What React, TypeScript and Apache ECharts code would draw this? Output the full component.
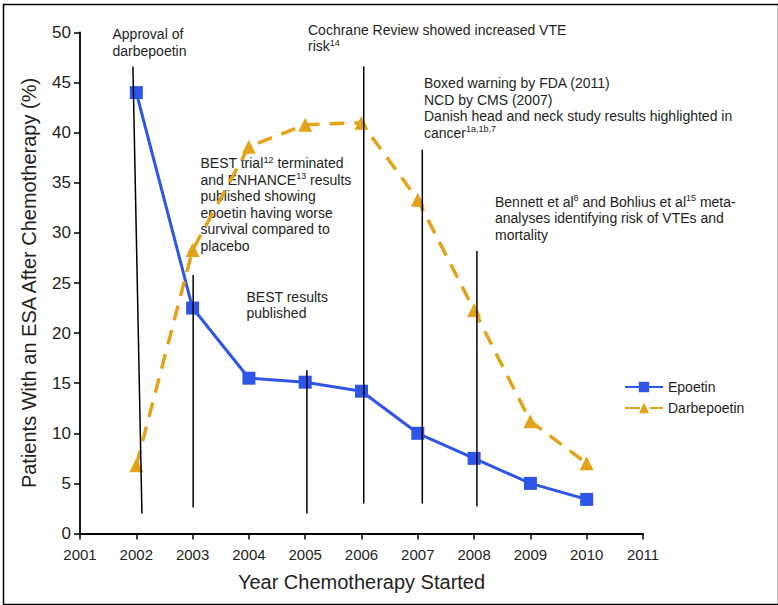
import React, { useEffect, useRef } from "react";
import * as echarts from "echarts";

// Data
const years = [2002, 2003, 2004, 2005, 2006, 2007, 2008, 2009, 2010];
const epoetin = [44.0, 22.5, 15.5, 15.1, 14.2, 10.0, 7.5, 5.0, 3.4];
const darbepoetin = [6.8, 28.3, 38.6, 40.8, 41.0, 33.3, 22.3, 11.2, 7.0];

// Event marker lines (data coordinates)
const eventTopX = [2001.94, 2003.01, 2005.03, 2006.04, 2007.08, 2008.05];
const eventTopY = [46.6, 25.8, 16.3, 46.6, 38.3, 28.2];
const eventBottomX = [2002.1, 2003.01, 2005.03, 2006.04, 2007.08, 2008.05];
const eventBottomY = [2.0, 2.6, 2.0, 3.0, 3.0, 2.7];

// Axis ranges
const xMin = 2001;
const xMax = 2011;
const yMin = 0;
const yMax = 50;
const yInterval = 5;

const seriesNames = ["Epoetin", "Darbepoetin"];

const annotations = [
  { text: "Approval of\ndarbepoetin", x: 112.5, y: 26 },
  { text: "Cochrane Review showed increased VTE\nrisk{sup|14}", x: 308, y: 21.5 },
  {
    text:
      "Boxed warning by FDA (2011)\nNCD by CMS (2007)\nDanish head and neck study results highlighted in\ncancer{sup|1a,1b,7}",
    x: 424,
    y: 75,
  },
  {
    text:
      "BEST trial{sup|12} terminated\nand ENHANCE{sup|13} results\npublished showing\nepoetin having worse\nsurvival compared to\nplacebo",
    x: 200.5,
    y: 155,
  },
  { text: "BEST results\npublished", x: 246.5, y: 288.5 },
  {
    text:
      "Bennett et al{sup|8} and Bohlius et al{sup|15} meta-\nanalyses identifying risk of VTEs and\nmortality",
    x: 495,
    y: 193.5,
  },
];

const FONT = "'Liberation Sans', Arial, Helvetica, sans-serif";
const TEXT = "#231f20";
const BLUE = "#2d55e8";
const GOLD = "#e3a21a";

export default function App() {
  const ref = useRef<HTMLDivElement>(null);
  useEffect(() => {
    if (!ref.current) return;
    const chart = echarts.init(ref.current, undefined, { renderer: "svg" });

    const eventSeries = eventTopX.map((_, i) => ({
      type: "line" as const,
      name: "event" + i,
      data: [
        [eventTopX[i], eventTopY[i]],
        [eventBottomX[i], eventBottomY[i]],
      ],
      symbol: "none",
      silent: true,
      z: 5,
      lineStyle: { color: "#000", width: 1.5 },
    }));

    const annotationGraphics = annotations.map((a) => ({
      type: "text" as const,
      left: a.x,
      top: a.y,
      silent: true,
      style: {
        text: a.text,
        fontSize: 14,
        fontFamily: FONT,
        fill: TEXT,
        lineHeight: 16.5,
        rich: {
          sup: {
            fontSize: 9,
            fontFamily: FONT,
            fill: TEXT,
            verticalAlign: "top",
            lineHeight: 16.5,
            padding: [0, 0, 6, 0],
          },
        },
      },
    }));

    chart.setOption({
      animation: false,
      backgroundColor: "#fff",
      grid: { left: 80, right: 135, top: 32.5, bottom: 71.5, containLabel: false },
      legend: {
        orient: "vertical",
        left: 619,
        top: 375,
        itemWidth: 38,
        itemHeight: 13,
        itemGap: 7,
        data: seriesNames,
        textStyle: { fontFamily: FONT, fontSize: 14, color: TEXT },
      },
      xAxis: {
        type: "value",
        min: xMin,
        max: xMax,
        interval: 1,
        name: "Year Chemotherapy Started",
        nameLocation: "middle",
        nameGap: 38,
        nameTextStyle: { fontFamily: FONT, fontSize: 20, color: TEXT },
        axisLine: { show: true, lineStyle: { color: "#000", width: 1.8 } },
        axisTick: { show: true, length: 6, lineStyle: { color: "#000", width: 1.5 } },
        axisLabel: {
          margin: 13,
          fontFamily: FONT,
          fontSize: 15,
          color: TEXT,
          formatter: (v: number) => String(v),
        },
        splitLine: { show: false },
      },
      yAxis: {
        type: "value",
        min: yMin,
        max: yMax,
        interval: yInterval,
        name: "Patients With an ESA After Chemotherapy (%)",
        nameLocation: "middle",
        nameGap: 41,
        nameTextStyle: { fontFamily: FONT, fontSize: 20, color: TEXT },
        axisLine: { show: true, lineStyle: { color: "#000", width: 1.8 } },
        axisTick: { show: true, length: 6, lineStyle: { color: "#000", width: 1.5 } },
        axisLabel: { margin: 9, fontFamily: FONT, fontSize: 17, color: TEXT },
        splitLine: { show: false },
      },
      series: [
        {
          type: "line",
          name: seriesNames[0],
          data: years.map((y, i) => [y, epoetin[i]]),
          symbol: "rect",
          symbolSize: 13,
          z: 3,
          itemStyle: { color: BLUE },
          lineStyle: { color: BLUE, width: 3 },
        },
        {
          type: "line",
          name: seriesNames[1],
          data: years.map((y, i) => [y, darbepoetin[i]]),
          symbol: "triangle",
          symbolSize: 14,
          z: 3,
          itemStyle: { color: GOLD },
          lineStyle: { color: GOLD, width: 3.5, type: [15, 10] },
        },
        ...eventSeries,
      ],
      graphic: [
        {
          type: "rect",
          left: 1,
          top: 2,
          silent: true,
          shape: { x: 0, y: 0, width: 775, height: 600 },
          style: { fill: "none", stroke: "#000", lineWidth: 1.5 },
        },
        ...annotationGraphics,
      ],
    });
    return () => chart.dispose();
  }, []);
  return (
    <div
      ref={ref}
      style={{ position: "fixed", left: 0, top: 0, width: 778, height: 605, background: "#fff" }}
    />
  );
}
